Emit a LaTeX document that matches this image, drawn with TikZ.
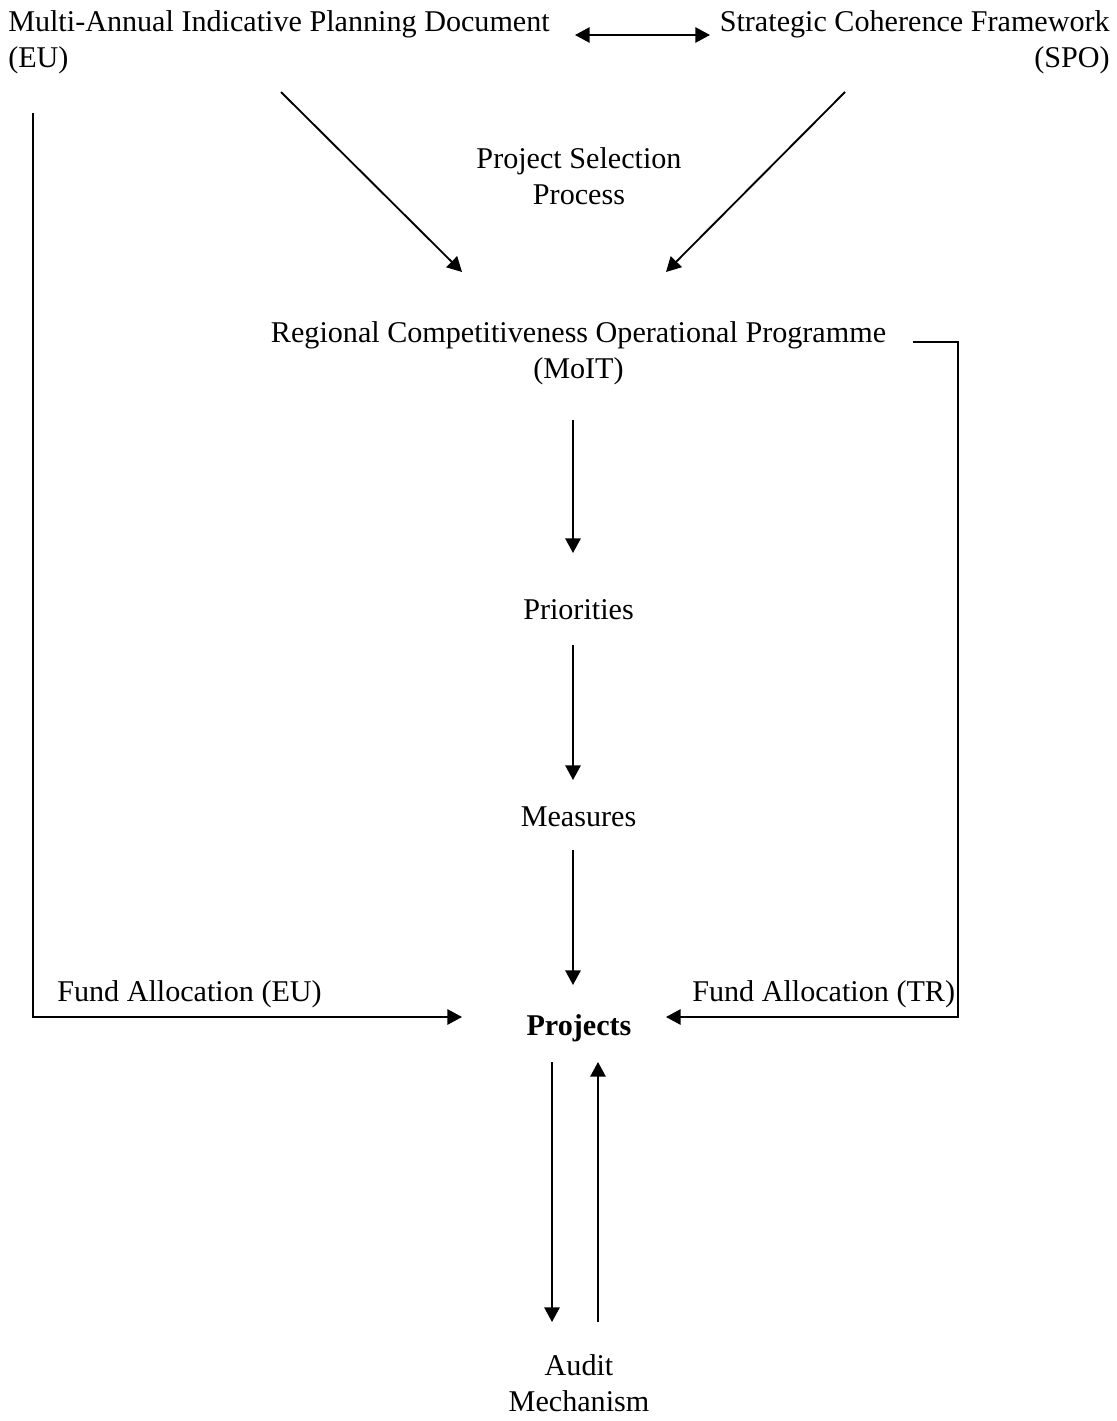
\documentclass[tikz,border=0pt]{standalone}
\usepackage{fontspec}
\setmainfont{Liberation Serif}
\usetikzlibrary{arrows.meta}
\begin{document}
\begin{tikzpicture}[x=0.75pt,y=-0.75pt,
  txt/.style={inner sep=0pt, font=\fontsize{22.6}{26.3}\selectfont},
  conn/.style={line width=1.4pt},
  tip/.style={},
  arr/.style={conn, -{Triangle[length=11pt,width=11.5pt]}},
  darr/.style={conn, {Triangle[length=11pt,width=11.5pt]}-{Triangle[length=11pt,width=11.5pt]}}]
\useasboundingbox (0,0) rectangle (1117,1421);
\node[txt, anchor=base west, align=left] (mipd) at (8,67) {Multi-Annual Indicative Planning Document\\(EU)};
\node[txt, anchor=base east, align=right] (scf) at (1110,67) {Strategic Coherence Framework\\(SPO)};
\node[txt, anchor=base, align=center] (psp) at (579,204) {Project Selection\\Process};
\node[txt, anchor=base, align=center] (rcop) at (578.5,378) {Regional Competitiveness Operational Programme\\(MoIT)};
\node[txt, anchor=base] (prio) at (578.5,619) {Priorities};
\node[txt, anchor=base] (meas) at (578.5,826) {Measures};
\node[txt, anchor=base west] (faeu) at (57,1001) {Fund Allocation (EU)};
\node[txt, anchor=base west] (fatr) at (692,1001) {Fund Allocation (TR)};
\node[txt, anchor=base, font=\fontsize{22.6}{26.3}\selectfont\bfseries] (proj) at (579,1035) {Projects};
\node[txt, anchor=base, align=center] (audit) at (579,1411) {Audit\\Mechanism};
% coordinates for connector ends
\coordinate (dl) at (575,35); \coordinate (dr) at (710,35);
\coordinate (eu0) at (33,113); \coordinate (eu1) at (33,1017); \coordinate (eu2) at (462,1017);
\coordinate (m0) at (281,92); \coordinate (m1) at (462,272);
\coordinate (s0) at (845,92); \coordinate (s1) at (666,272);
\coordinate (tr0) at (913,342); \coordinate (tr1) at (958,342); \coordinate (tr2) at (958,1017); \coordinate (tr3) at (666,1017);
\coordinate (r0) at (573,420); \coordinate (r1) at (573,553);
\coordinate (p0) at (573,645); \coordinate (p1) at (573,780);
\coordinate (q0) at (573,850); \coordinate (q1) at (573,985);
\coordinate (a0) at (552,1062); \coordinate (a1) at (552,1322);
\coordinate (b0) at (598,1322); \coordinate (b1) at (598,1062);
\draw[darr] (dl) -- (dr);
\draw[arr] (eu0) -- (eu1) -- (eu2);
\draw[arr] (m0) -- (m1);
\draw[arr] (s0) -- (s1);
\draw[arr] (tr0) -- (tr1) -- (tr2) -- (tr3);
\draw[arr] (r0) -- (r1);
\draw[arr] (p0) -- (p1);
\draw[arr] (q0) -- (q1);
\draw[arr] (a0) -- (a1);
\draw[arr] (b0) -- (b1);
\end{tikzpicture}
\end{document}
